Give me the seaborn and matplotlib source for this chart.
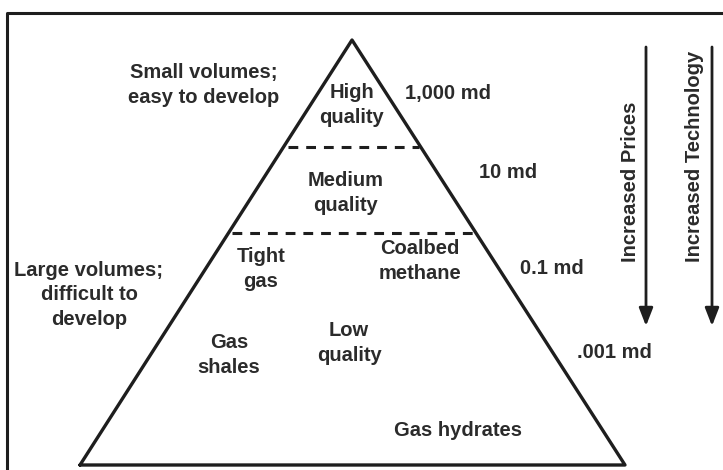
import matplotlib
matplotlib.use("Agg")
import matplotlib.pyplot as plt
import seaborn as sns
import pandas as pd

sns.set_theme(style="white")
plt.rcParams['font.family'] = ['Liberation Sans', 'DejaVu Sans']

# ---- content ----
side_notes = ["Small volumes;\neasy to develop", "Large volumes;\ndifficult to\ndevelop"]
tier_labels = ["High\nquality", "Medium\nquality", "Low\nquality"]
resource_labels = ["Tight\ngas", "Coalbed\nmethane", "Gas\nshales", "Gas hydrates"]
permeability_labels = ["1,000 md", "10 md", "0.1 md", ".001 md"]
arrow_labels = ["Increased Prices", "Increased Technology"]

# ---- geometry (pixel coordinate system of the figure) ----
apex = (352, 40)
base_l = (80, 465)
base_r = (625, 465)
dash_y = [147, 233]

def side_x(y, left=True):
    t = (y - apex[1]) / (base_l[1] - apex[1])
    if left:
        return apex[0] + t * (base_l[0] - apex[0])
    return apex[0] + t * (base_r[0] - apex[0])

fig = plt.figure(figsize=(7.23, 4.70), dpi=100)
ax = fig.add_axes([0, 0, 1, 1])
ax.set_xlim(0, 723)
ax.set_ylim(470, 0)
ax.axis("off")

ink = "#1e1e1e"
txt = "#2b2b2b"

# frame
frame = pd.DataFrame({"x": [7, 7, 740], "y": [490, 12.5, 12.5]})
sns.lineplot(data=frame, x="x", y="y", sort=False, estimator=None, color=ink, lw=2.2, ax=ax)

# pyramid outline
tri = pd.DataFrame({"x": [base_l[0], apex[0], base_r[0], base_l[0]],
                    "y": [base_l[1], apex[1], base_r[1], base_l[1]]})
sns.lineplot(data=tri, x="x", y="y", sort=False, estimator=None, color=ink, lw=2.4, ax=ax)

# dashed tier boundaries
for y in dash_y:
    seg = pd.DataFrame({"x": [side_x(y, True) + 4, side_x(y, False) - 2], "y": [y, y]})
    sns.lineplot(data=seg, x="x", y="y", sort=False, estimator=None, color=ink, lw=2.2,
                 linestyle=(0, (3.2, 2.6)), ax=ax)

fs = 14.5
kw = dict(ha="center", va="center", fontsize=fs, fontweight="bold", color=txt, linespacing=1.36)

# side notes
ax.text(204, 85, side_notes[0], **kw)
ax.text(89, 295, side_notes[1], **kw)

# tiers
ax.text(352, 105, tier_labels[0], **kw)
ax.text(346, 193, tier_labels[1], **kw)
ax.text(349, 343, tier_labels[2], **kw)

# resources
ax.text(261, 269, resource_labels[0], **kw)
ax.text(420, 261, resource_labels[1], **kw)
ax.text(229, 355, resource_labels[2], **kw)
ax.text(458, 431, resource_labels[3], **kw)

# permeability
for (x, y), lab in zip([(448, 93), (508, 172), (552, 268), (614, 352)], permeability_labels):
    ax.text(x, y, lab, **kw)

# arrows
for x, xt, lab in zip([646, 712], [630, 694], arrow_labels):
    ax.annotate("", xy=(x, 326), xytext=(x, 47),
                arrowprops=dict(arrowstyle="-|>,head_length=0.9,head_width=0.35", color=ink, lw=2.0,
                                shrinkA=0, shrinkB=0))
    ax.text(xt, 262, lab, rotation=90, ha="center", va="bottom", fontsize=fs,
            fontweight="bold", color=txt)

fig.savefig("out.png", dpi=100)
